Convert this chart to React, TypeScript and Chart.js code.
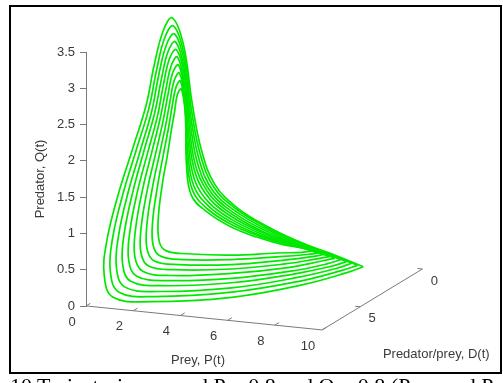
import React, { useEffect, useRef } from 'react';
import { Chart, registerables } from 'chart.js';

Chart.register(...registerables);

// ---- Data (projected trajectory points: u = horizontal in P-units along the front axis, v = height in Q-units) ----
const LOOP_U: number[][] = [
  [11.75, 10.64, 9.15, 7.66, 6.38, 5.45, 4.89, 4.51, 4.13, 3.66, 3.28, 2.89, 2.55, 1.96, 1.36, 0.89, 0.77, 1.15, 2.77, 6.17, 9.15, 11.06],
  [11.51, 10.47, 9.05, 7.61, 6.35, 5.41, 4.85, 4.48, 4.14, 3.70, 3.34, 2.99, 2.67, 2.12, 1.57, 1.13, 1.03, 1.40, 2.93, 6.17, 9.03, 10.85],
  [11.27, 10.31, 8.96, 7.57, 6.32, 5.37, 4.80, 4.45, 4.15, 3.75, 3.41, 3.08, 2.79, 2.29, 1.78, 1.38, 1.29, 1.65, 3.10, 6.17, 8.91, 10.64],
  [11.04, 10.14, 8.87, 7.52, 6.28, 5.33, 4.75, 4.43, 4.16, 3.79, 3.47, 3.18, 2.91, 2.45, 1.99, 1.62, 1.55, 1.90, 3.26, 6.17, 8.80, 10.43],
  [10.80, 9.98, 8.77, 7.47, 6.25, 5.30, 4.70, 4.40, 4.17, 3.83, 3.54, 3.27, 3.03, 2.62, 2.19, 1.86, 1.81, 2.15, 3.43, 6.17, 8.68, 10.21],
  [10.56, 9.81, 8.68, 7.42, 6.22, 5.26, 4.66, 4.37, 4.17, 3.87, 3.61, 3.37, 3.14, 2.78, 2.40, 2.10, 2.07, 2.40, 3.59, 6.17, 8.56, 10.00],
  [10.33, 9.65, 8.58, 7.38, 6.18, 5.22, 4.61, 4.34, 4.18, 3.92, 3.67, 3.46, 3.26, 2.95, 2.61, 2.34, 2.33, 2.65, 3.76, 6.17, 8.44, 9.79],
  [10.09, 9.48, 8.49, 7.33, 6.15, 5.18, 4.56, 4.31, 4.19, 3.96, 3.74, 3.56, 3.38, 3.12, 2.82, 2.58, 2.59, 2.90, 3.92, 6.17, 8.32, 9.57],
  [9.85, 9.31, 8.39, 7.28, 6.12, 5.14, 4.52, 4.28, 4.20, 4.00, 3.81, 3.65, 3.50, 3.28, 3.03, 2.82, 2.85, 3.15, 4.09, 6.17, 8.20, 9.36],
  [9.62, 9.15, 8.30, 7.23, 6.09, 5.11, 4.47, 4.26, 4.21, 4.04, 3.87, 3.75, 3.62, 3.45, 3.23, 3.06, 3.11, 3.40, 4.26, 6.17, 8.09, 9.15],
];

const LOOP_V: number[][] = [
  [0.54, 0.69, 0.87, 1.10, 1.36, 1.68, 2.15, 2.77, 3.60, 3.97, 3.80, 3.32, 2.77, 2.15, 1.53, 0.91, 0.43, 0.12, 0.06, 0.12, 0.29, 0.46],
  [0.56, 0.70, 0.87, 1.09, 1.34, 1.64, 2.08, 2.68, 3.49, 3.86, 3.70, 3.25, 2.73, 2.14, 1.55, 0.94, 0.48, 0.19, 0.13, 0.19, 0.34, 0.49],
  [0.59, 0.71, 0.86, 1.07, 1.31, 1.59, 2.01, 2.59, 3.38, 3.75, 3.60, 3.18, 2.69, 2.13, 1.56, 0.97, 0.53, 0.26, 0.20, 0.25, 0.39, 0.52],
  [0.61, 0.73, 0.86, 1.05, 1.28, 1.55, 1.94, 2.49, 3.27, 3.64, 3.50, 3.10, 2.66, 2.13, 1.58, 1.00, 0.58, 0.34, 0.28, 0.32, 0.44, 0.55],
  [0.64, 0.74, 0.86, 1.03, 1.25, 1.51, 1.87, 2.40, 3.17, 3.53, 3.41, 3.03, 2.62, 2.12, 1.59, 1.03, 0.63, 0.41, 0.35, 0.38, 0.48, 0.58],
  [0.66, 0.75, 0.86, 1.02, 1.22, 1.47, 1.80, 2.31, 3.06, 3.43, 3.31, 2.96, 2.58, 2.11, 1.61, 1.06, 0.68, 0.48, 0.42, 0.45, 0.53, 0.62],
  [0.68, 0.76, 0.86, 1.00, 1.19, 1.42, 1.73, 2.22, 2.95, 3.32, 3.21, 2.89, 2.54, 2.10, 1.62, 1.09, 0.73, 0.55, 0.50, 0.51, 0.58, 0.65],
  [0.71, 0.77, 0.86, 0.98, 1.16, 1.38, 1.66, 2.13, 2.85, 3.21, 3.11, 2.82, 2.50, 2.10, 1.64, 1.12, 0.78, 0.62, 0.57, 0.57, 0.63, 0.68],
  [0.73, 0.79, 0.86, 0.97, 1.13, 1.34, 1.59, 2.04, 2.74, 3.10, 3.01, 2.75, 2.46, 2.09, 1.65, 1.15, 0.83, 0.69, 0.64, 0.64, 0.68, 0.71],
  [0.76, 0.80, 0.85, 0.95, 1.10, 1.30, 1.52, 1.94, 2.63, 2.99, 2.91, 2.67, 2.43, 2.08, 1.67, 1.19, 0.88, 0.76, 0.72, 0.70, 0.73, 0.74],
];

const P_TICKS = [0, 2, 4, 6, 8, 10];
const D_TICKS = [0, 5];
const Q_MIN = 0;
const Q_MAX = 3.5;
const Q_STEP = 0.5;
const P_MAX = 10;
const D_MAX = 8.06;

const P_TITLE = 'Prey, P(t)';
const D_TITLE = 'Predator/prey, D(t)';
const Q_TITLE = 'Predator, Q(t)';
const CAPTION = '10 Trajectories around P = 0.8 and Q = 0.8 (Prey and Predator) and b';

// ---- View geometry / styles ----
const VIEW = { u0: 4.255, uP: 1, uD: -0.5277, v0: 0.8406, vP: -0.03307, vD: -0.10417 };
function project(P: number, D: number, Q: number) {
  return { x: VIEW.u0 + P * VIEW.uP + D * VIEW.uD, y: VIEW.v0 + P * VIEW.vP + D * VIEW.vD + Q };
}

const FONT = "'Liberation Sans', Arial, Helvetica, sans-serif";
const TEXT_COLOR = '#3a3a3a';
const AXIS_COLOR = '#7a7a7a';
const LINE_COLOR = 'rgb(0, 232, 0)';

const axes3d = {
  id: 'axes3d',
  beforeDatasetsDraw(chart: any) {
    const { ctx } = chart;
    const xs = chart.scales.x;
    const ys = chart.scales.y;
    const px = (P: number, D: number, Q: number): [number, number] => {
      const p = project(P, D, Q);
      return [xs.getPixelForValue(p.x), ys.getPixelForValue(p.y)];
    };
    const seg = (a: [number, number], b: [number, number]) => {
      ctx.beginPath();
      ctx.moveTo(a[0], a[1]);
      ctx.lineTo(b[0], b[1]);
      ctx.stroke();
    };
    const tick = (a: [number, number], toward: [number, number], len: number) => {
      const dx = toward[0] - a[0];
      const dy = toward[1] - a[1];
      const n = Math.hypot(dx, dy) || 1;
      seg(a, [a[0] + (dx / n) * len, a[1] + (dy / n) * len]);
    };
    ctx.save();
    ctx.strokeStyle = AXIS_COLOR;
    ctx.lineWidth = 1;
    seg(px(0, D_MAX, 0), px(P_MAX, D_MAX, 0));
    seg(px(P_MAX, D_MAX, 0), px(P_MAX, 0, 0));
    P_TICKS.forEach((p) => tick(px(p, D_MAX, 0), px(p, D_MAX - 1, 0), 5));
    D_TICKS.forEach((d) => tick(px(P_MAX, d, 0), px(P_MAX - 1, d, 0), 5));

    ctx.fillStyle = TEXT_COLOR;
    ctx.font = `13px ${FONT}`;
    ctx.textAlign = 'center';
    ctx.textBaseline = 'middle';
    P_TICKS.forEach((p) => {
      const a = px(p, D_MAX, 0);
      ctx.fillText(String(p), a[0] - 14, a[1] + 16);
    });
    D_TICKS.forEach((d) => {
      const a = px(P_MAX, d, 0);
      ctx.fillText(String(d), a[0] + 12, a[1] + 12);
    });
    const pm = px(P_MAX / 2, D_MAX, 0);
    ctx.fillText(P_TITLE, pm[0] - 6, pm[1] + 42);
    const dm = px(P_MAX, D_MAX / 2, 0);
    ctx.fillText(D_TITLE, dm[0] + 64, dm[1] + 55);
    ctx.restore();
  },
};

export default function App() {
  const ref = useRef<HTMLCanvasElement | null>(null);

  useEffect(() => {
    if (!ref.current) return;
    const datasets = LOOP_U.map((us, k) => {
      const pts = us.map((u, i) => ({ x: u, y: LOOP_V[k][i] }));
      pts.push({ ...pts[0] });
      return {
        label: `Trajectory ${k + 1}`,
        data: pts,
        showLine: true,
        borderColor: LINE_COLOR,
        backgroundColor: LINE_COLOR,
        borderWidth: 1.7,
        pointRadius: 0,
        tension: 0.4,
        fill: false,
        clip: false as any,
      };
    });
    const chart = new Chart(ref.current, {
      type: 'scatter',
      data: { datasets },
      plugins: [axes3d],
      options: {
        responsive: false,
        maintainAspectRatio: false,
        devicePixelRatio: 1,
        animation: false,
        events: [],
        elements: { line: { capBezierPoints: false } },
        layout: { padding: { left: 8, top: 52, bottom: 77, right: 63 } },
        plugins: { legend: { display: false }, tooltip: { enabled: false } },
        scales: {
          x: { type: 'linear', display: false, min: 0, max: 15 },
          y: {
            type: 'linear',
            position: 'left',
            min: Q_MIN,
            max: Q_MAX,
            afterFit: (scale: any) => {
              scale.width = 78;
            },
            ticks: {
              stepSize: Q_STEP,
              padding: 5,
              color: TEXT_COLOR,
              font: { family: FONT, size: 13 },
              callback: (v: any) => String(v),
            },
            grid: { display: true, drawOnChartArea: false, drawTicks: true, tickLength: 6, color: AXIS_COLOR },
            border: { display: true, color: AXIS_COLOR, width: 1 },
            title: {
              display: true,
              text: Q_TITLE,
              color: TEXT_COLOR,
              font: { family: FONT, size: 13 },
              padding: { top: 25, bottom: 0 },
            },
          },
        },
      } as any,
    });
    return () => chart.destroy();
  }, []);

  return (
    <div style={{ position: 'fixed', left: 0, top: 0, width: 503, height: 383, background: '#fff', overflow: 'hidden' }}>
      <canvas ref={ref} width={503} height={383} style={{ position: 'absolute', left: 0, top: 0 }} />
      <div
        style={{
          position: 'absolute',
          left: 9,
          top: 5,
          width: 493,
          height: 369,
          boxSizing: 'border-box',
          border: '2px solid #000',
        }}
      />
      <div
        style={{
          position: 'absolute',
          left: 10,
          top: 375,
          fontFamily: "'Liberation Serif', 'Times New Roman', serif",
          fontSize: 22,
          lineHeight: '22px',
          whiteSpace: 'nowrap',
          color: '#000',
        }}
      >
        {CAPTION}
      </div>
    </div>
  );
}
